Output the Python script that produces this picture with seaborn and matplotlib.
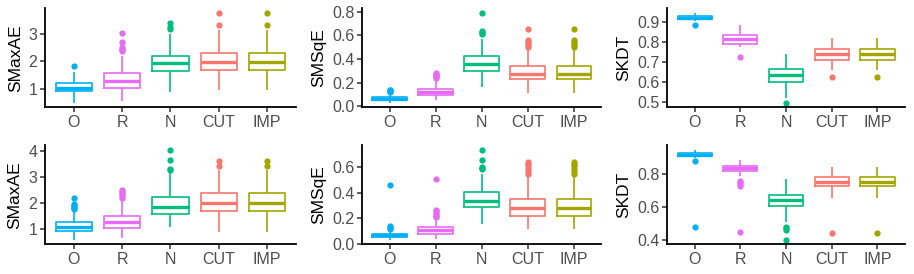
import numpy as np
import pandas as pd
import matplotlib
matplotlib.use("Agg")
import matplotlib.pyplot as plt
import seaborn as sns

methods = ["O", "R", "N", "CUT", "IMP"]
colors = ["#00B0F6", "#E76BF3", "#00BF7D", "#F8766D", "#A3A500"]

# box statistics, one value per method
# (lower whisker end, q1, median, q3, upper whisker end, outliers)
maxae1_lo = [0.49, 0.55, 0.89, 0.96, 0.96]
maxae1_q1 = [0.91, 1.03, 1.64, 1.66, 1.66]
maxae1_med = [1.02, 1.27, 1.93, 1.95, 1.95]
maxae1_q3 = [1.20, 1.55, 2.20, 2.30, 2.30]
maxae1_hi = [1.62, 2.20, 2.98, 3.12, 3.12]
maxae1_out = [[1.82], [2.35, 2.39, 2.44, 2.50, 2.70, 3.02], [3.18, 3.25, 3.37],
              [3.30, 3.75], [3.30, 3.75]]

msqe1_lo = [0.030, 0.050, 0.165, 0.115, 0.115]
msqe1_q1 = [0.050, 0.094, 0.300, 0.234, 0.234]
msqe1_med = [0.065, 0.118, 0.360, 0.275, 0.275]
msqe1_q3 = [0.078, 0.148, 0.423, 0.340, 0.340]
msqe1_hi = [0.110, 0.210, 0.570, 0.480, 0.480]
msqe1_out = [[0.122, 0.128, 0.135, 0.140], [0.235, 0.245, 0.255, 0.265, 0.275, 0.285],
             [0.610, 0.620, 0.630, 0.640, 0.790],
             [0.505, 0.520, 0.535, 0.550, 0.565, 0.655],
             [0.505, 0.520, 0.535, 0.550, 0.565, 0.655]]

kdt1_lo = [0.905, 0.775, 0.520, 0.660, 0.660]
kdt1_q1 = [0.915, 0.792, 0.600, 0.710, 0.710]
kdt1_med = [0.921, 0.814, 0.633, 0.740, 0.740]
kdt1_q3 = [0.928, 0.833, 0.664, 0.764, 0.764]
kdt1_hi = [0.945, 0.885, 0.742, 0.822, 0.822]
kdt1_out = [[0.887], [0.726], [0.497], [0.624], [0.624]]

maxae2_lo = [0.57, 0.64, 1.07, 0.88, 0.88]
maxae2_q1 = [0.92, 1.03, 1.57, 1.69, 1.69]
maxae2_med = [1.07, 1.25, 1.85, 1.97, 1.97]
maxae2_q3 = [1.24, 1.48, 2.23, 2.36, 2.36]
maxae2_hi = [1.65, 2.09, 3.18, 3.26, 3.26]
maxae2_out = [[1.75, 1.80, 1.85, 1.90, 1.95, 2.20], [2.17, 2.25, 2.32, 2.38, 2.44, 2.48],
              [3.26, 3.32, 3.65, 4.04], [3.42, 3.63], [3.42, 3.63]]

msqe2_lo = [0.034, 0.042, 0.160, 0.114, 0.114]
msqe2_q1 = [0.057, 0.082, 0.286, 0.222, 0.222]
msqe2_med = [0.068, 0.106, 0.340, 0.283, 0.283]
msqe2_q3 = [0.080, 0.132, 0.405, 0.350, 0.350]
msqe2_hi = [0.100, 0.195, 0.550, 0.535, 0.535]
msqe2_out = [[0.120, 0.130, 0.140, 0.458],
             [0.212, 0.220, 0.230, 0.240, 0.255, 0.265, 0.511],
             [0.585, 0.595, 0.600, 0.657, 0.736],
             [0.550, 0.570, 0.590, 0.610, 0.630, 0.645],
             [0.550, 0.570, 0.590, 0.610, 0.630, 0.645]]

kdt2_lo = [0.900, 0.790, 0.505, 0.655, 0.655]
kdt2_q1 = [0.912, 0.819, 0.604, 0.727, 0.727]
kdt2_med = [0.920, 0.837, 0.642, 0.754, 0.754]
kdt2_q3 = [0.928, 0.852, 0.675, 0.785, 0.785]
kdt2_hi = [0.948, 0.888, 0.769, 0.842, 0.842]
kdt2_out = [[0.882, 0.477], [0.730, 0.740, 0.750, 0.760, 0.446],
            [0.460, 0.470, 0.480, 0.400], [0.442], [0.442]]

ylabels = ["SMaxAE", "SMSqE", "SKDT", "SMaxAE", "SMSqE", "SKDT"]
yticks = [[1, 2, 3], [0.0, 0.2, 0.4, 0.6, 0.8], [0.5, 0.6, 0.7, 0.8, 0.9],
          [1, 2, 3, 4], [0.0, 0.2, 0.4, 0.6], [0.4, 0.6, 0.8]]
yticklabels = [["1", "2", "3"], ["0.0", "0.2", "0.4", "0.6", "0.8"],
               ["0.5", "0.6", "0.7", "0.8", "0.9"], ["1", "2", "3", "4"],
               ["0.0", "0.2", "0.4", "0.6"], ["0.4", "0.6", "0.8"]]

panels = [
    (maxae1_lo, maxae1_q1, maxae1_med, maxae1_q3, maxae1_hi, maxae1_out),
    (msqe1_lo, msqe1_q1, msqe1_med, msqe1_q3, msqe1_hi, msqe1_out),
    (kdt1_lo, kdt1_q1, kdt1_med, kdt1_q3, kdt1_hi, kdt1_out),
    (maxae2_lo, maxae2_q1, maxae2_med, maxae2_q3, maxae2_hi, maxae2_out),
    (msqe2_lo, msqe2_q1, msqe2_med, msqe2_q3, msqe2_hi, msqe2_out),
    (kdt2_lo, kdt2_q1, kdt2_med, kdt2_q3, kdt2_hi, kdt2_out),
]


def samples_from_stats(lo, q1, med, q3, hi, out, n=20):
    # blocks of equal values so that the quartiles come out as read
    return [lo] + [q1] * n + [med] * n + [q3] * n + [hi] + list(out)


def panel_frame(stats):
    rows = []
    for i, m in enumerate(methods):
        vals = samples_from_stats(*(s[i] for s in stats))
        rows += [{"method": m, "value": v} for v in vals]
    return pd.DataFrame(rows)


sns.set_style("white")
plt.rcParams["font.family"] = ["Liberation Sans", "DejaVu Sans"]

fig = plt.figure(figsize=(9.14, 2.74), dpi=100)
lefts = [0.049, 0.396, 0.730]
widths = [0.275, 0.262, 0.260]
bottoms = [0.609, 0.109]
height = 0.360

palette = dict(zip(methods, colors))

for k, stats in enumerate(panels):
    r, c = divmod(k, 3)
    ax = fig.add_axes([lefts[c], bottoms[r], widths[c], height])
    df = panel_frame(stats)
    sns.boxplot(data=df, x="method", y="value", hue="method", order=methods,
                palette=palette, fill=False, legend=False, width=0.75,
                linewidth=1.2, showcaps=False, whis=1.5,
                medianprops={"linewidth": 2.4},
                flierprops={"marker": "o", "markersize": 4.5}, ax=ax)
    for line in ax.lines:
        if line.get_marker() == "o":
            line.set_markerfacecolor(line.get_markeredgecolor())
            line.set_markeredgewidth(0)
    vals = df["value"]
    span = vals.max() - vals.min()
    ax.set_ylim(vals.min() - 0.05 * span, vals.max() + 0.05 * span)
    ax.set_xlim(-0.6, 4.6)
    ax.set_yticks(yticks[k])
    ax.set_yticklabels(yticklabels[k])
    ax.set_xlabel("")
    ax.set_ylabel(ylabels[k], fontsize=12.5, color="black", labelpad=4)
    for side in ["top", "right"]:
        ax.spines[side].set_visible(False)
    for side in ["left", "bottom"]:
        ax.spines[side].set_linewidth(1.3)
        ax.spines[side].set_color("black")
    ax.tick_params(axis="both", which="major", length=3.5, width=1.1,
                   color="#333333", labelcolor="#4D4D4D", labelsize=11.5,
                   pad=2, left=True, bottom=True)

plt.savefig("out.png", dpi=100)
